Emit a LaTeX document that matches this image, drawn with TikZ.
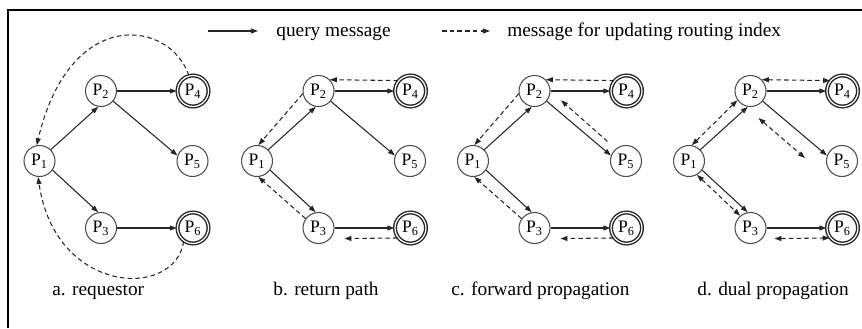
\documentclass[tikz,border=0pt]{standalone}
\usepackage{fontspec}
\setmainfont{Liberation Serif}
\usetikzlibrary{arrows.meta}
\usetikzlibrary{positioning}
\tikzset{peer/.style={circle,draw=black!70,line width=0.6pt,minimum size=0.62cm,inner sep=0pt,
                      font=\fontsize{10}{10}\selectfont},
         target/.style={peer,draw=black!85,double,double distance=0.7pt,line width=0.8pt},
         query/.style={-{Triangle[length=4pt,width=2.8pt]},line width=0.6pt,black!85},
         update/.style={query,dash pattern=on 2.6pt off 1.8pt},
         bothway/.style={update,{Triangle[length=4pt,width=2.8pt]}-{Triangle[length=4pt,width=2.8pt]}},
         legendtext/.style={anchor=base west,inner sep=0pt,font=\fontsize{11}{13}\selectfont},
         casetext/.style={legendtext},
         }
\begin{document}
\begin{tikzpicture}[x=0.02cm,y=-0.02cm]
\useasboundingbox (0,0) rectangle (862,328);
% frame
\draw[line width=0.7pt] (8,328) -- (8,10) -- (862,10);
% legend
\coordinate (q0) at (208,31);
\coordinate (q1) at (258,31);
\coordinate (u0) at (442,31);
\coordinate (u1) at (490,31);
\draw[query] (q0) -- (q1);
\draw[update] (u0) -- (u1);
\node[legendtext] (qtext) at (276,36) {query message};
\node[legendtext] (utext) at (507,36) {message for updating routing index};
% peers and query messages
\foreach \s/\x in {a/39.5,b/257,c/473,d/689}
{
  \node[peer] (P1\s) at (\x,161) {P\textsubscript{1}};
  \node[peer] (P2\s) at (\x+61.5,91) {P\textsubscript{2}};
  \node[peer] (P3\s) at (\x+61.5,228) {P\textsubscript{3}};
  \node[target] (P4\s) at (\x+153.5,91) {P\textsubscript{4}};
  \node[peer] (P5\s) at (\x+153,161) {P\textsubscript{5}};
  \node[target] (P6\s) at (\x+153.5,228) {P\textsubscript{6}};
  \draw[query] (P1\s.45) -- (P2\s.260);
  \draw[query] (P1\s.-35) -- (P3\s.100);
  \draw[query] (P2\s) -- (P4\s);
  \draw[query] (P2\s.-40) -- (P5\s.160);
  \draw[query] (P3\s) -- (P6\s);
}
% a. requestor
\draw[update] (P4a.105) .. controls (170,20) and (70,5) .. (P1a.100);
\draw[update] (P6a.235) .. controls (175,300) and (55,295) .. (P1a.265);
% b. return path
\draw[update] (P2b.190) -- (P1b.85);
\draw[update] (P4b.140) -- (P2b.45);
\draw[update] (P3b.144) -- (P1b.-85);
\draw[update,shorten >=0.28cm] (P6b.218) -- (P3b.-42);
% c. forward propagation
\draw[update] (P2c.190) -- (P1c.85);
\draw[update] (P4c.140) -- (P2c.45);
\draw[update] (P3c.144) -- (P1c.-85);
\draw[update,shorten >=0.28cm] (P6c.218) -- (P3c.-42);
\draw[update,shorten <=0.22cm,shorten >=0.28cm] (P5c.130) -- (P2c.0);
% d. dual propagation
\draw[bothway] (P1d.80) -- (P2d.215);
\draw[bothway] (P2d.45) -- (P4d.140);
\draw[bothway] (P1d.-60) -- (P3d.130);
\draw[bothway] ([shift={(8,27)}]P2d.center) -- ([shift={(-37,-3)}]P5d.center);
\draw[bothway,shorten <=0.24cm] (P3d.-42) -- (P6d.218);
% captions
\node[casetext] (capa) at (52,295) {a. requestor};
\node[casetext] (capb) at (273,295) {b. return path};
\node[casetext] (capc) at (451,295) {c. forward propagation};
\node[casetext] (capd) at (697,295) {d. dual propagation};
\end{tikzpicture}
\end{document}
